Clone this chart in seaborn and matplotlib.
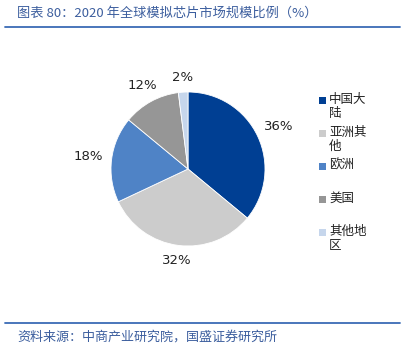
import numpy as np
import matplotlib
matplotlib.use("Agg")
import matplotlib.pyplot as plt
from matplotlib.patches import Rectangle
from matplotlib.lines import Line2D
import seaborn as sns

# Global analog chip market share by region, 2020 (%)
regions = ["中国大陆", "亚洲其他", "欧洲", "美国", "其他地区"]
legend_labels = ["中国大\n陆", "亚洲其\n他", "欧洲", "美国", "其他地\n区"]
shares = [36, 32, 18, 12, 2]
colors = ["#003F93", "#CCCCCC", "#4F83C6", "#969696", "#C6D6EC"]

title = "图表 80：2020 年全球模拟芯片市场规模比例（%）"
source = "资料来源：中商产业研究院，国盛证券研究所"

sns.set_theme(style="white")
plt.rcParams["font.family"] = ["Noto Sans CJK SC", "DejaVu Sans"]

W, H = 404, 346
fig = plt.figure(figsize=(W / 100, H / 100), dpi=100)
fig.patch.set_facecolor("white")


def fx(px):
    return px / W


def fy(py):
    return 1 - py / H


# pie axes: centre (188,169), radius 77 px
cx, cy, r = 188, 169, 77
ax = fig.add_axes([fx(cx - r), fy(cy + r), 2 * r / W, 2 * r / H])
wedges, _ = ax.pie(shares, colors=colors, startangle=90, counterclock=False,
                   wedgeprops=dict(edgecolor="white", linewidth=0.6))
ax.set_xlim(-1, 1)
ax.set_ylim(-1, 1)
ax.set_aspect("equal")
ax.axis("off")

# percentage labels outside each wedge
for w, v in zip(wedges, shares):
    mid = np.deg2rad((w.theta1 + w.theta2) / 2)
    c, s = np.cos(mid), np.sin(mid)
    d = 1.18 + 0.13 * abs(c)
    ax.text(d * c, d * s, f"{v}%", ha="center", va="center",
            fontsize=9.5, color="#222222", family="DejaVu Sans", clip_on=False)

# legend drawn as coloured squares with wrapped names
lx, ly0, step = 319, 100, 33
for i, (lab, col) in enumerate(zip(legend_labels, colors)):
    y = ly0 + step * i
    fig.patches.append(Rectangle((fx(lx), fy(y + 3.5)), 6.5 / W, 6.5 / H,
                                 transform=fig.transFigure, facecolor=col,
                                 edgecolor="none"))
    fig.text(fx(lx + 10), fy(y - 7), lab, ha="left", va="top",
             fontsize=9, color="#222222", linespacing=1.05)

# title and rule
fig.text(fx(17), fy(13), title, ha="left", va="center", fontsize=9.5,
         color="#3C5E9E", style="italic")
fig.add_artist(Line2D([fx(5), fx(400)], [fy(27), fy(27)],
                      transform=fig.transFigure, color="#3A6BB5", linewidth=1.3))

# source rule and note
fig.add_artist(Line2D([fx(5), fx(400)], [fy(323), fy(323)],
                      transform=fig.transFigure, color="#3A6BB5", linewidth=1.3))
fig.text(fx(17), fy(337), source, ha="left", va="center", fontsize=9.4,
         color="#3C5E9E", style="italic")

fig.savefig("out.png", dpi=100)
